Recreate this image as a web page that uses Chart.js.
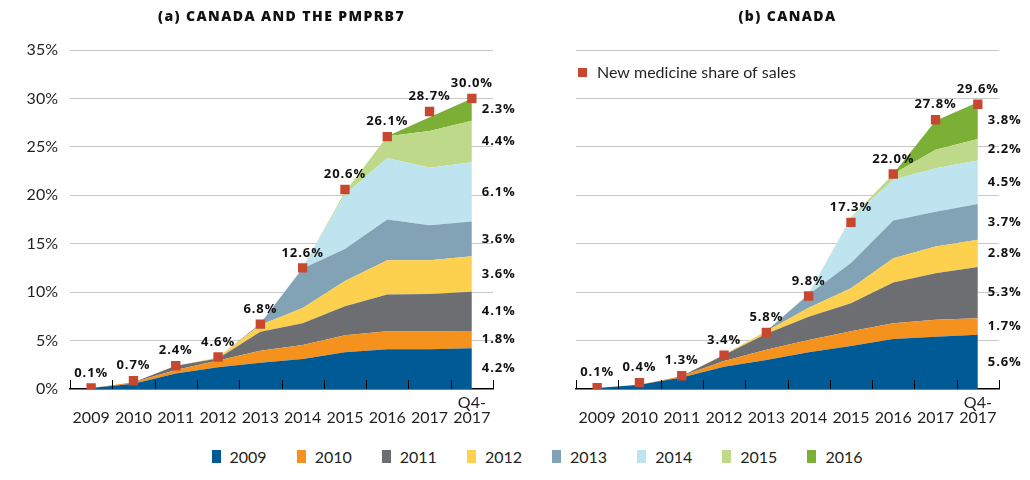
<!DOCTYPE html>
<html>
<head>
<meta charset="utf-8">
<script src="https://cdn.jsdelivr.net/npm/chart.js@4"></script>
<style>
html,body{margin:0;padding:0;background:#fff;width:1030px;height:480px;overflow:hidden;}
#wrap{position:relative;width:1030px;height:480px;}
#ca{position:absolute;left:0;top:0;}
#cb{position:absolute;left:515px;top:0;}
#legend{position:absolute;top:447px;left:22px;width:1030px;display:flex;justify-content:center;align-items:center;
  font-family:Lato,"Open Sans",sans-serif;font-size:16px;color:#231f20;}
.item{display:flex;align-items:center;margin:0 15px;}
.sw{display:inline-block;width:9px;height:13px;margin-right:9px;}
</style>
</head>
<body>
<div id="wrap">
<canvas id="ca" width="535" height="440"></canvas>
<canvas id="cb" width="515" height="440"></canvas>
<div id="legend"></div>
</div>
<script>
// ---------- DATA ----------
const categories = ['2009','2010','2011','2012','2013','2014','2015','2016','2017','Q4-2017'];
const xTickLabels = [['','2009'],['','2010'],['','2011'],['','2012'],['','2013'],['','2014'],['','2015'],['','2016'],['','2017'],['Q4-','2017']];
const yTickValues = [0,5,10,15,20,25,30,35];
const cohorts = ['2009','2010','2011','2012','2013','2014','2015','2016'];
const cohortColors = ['#005A96','#F5921E','#6D6E71','#FDD04D','#82A2B5','#BEE4EF','#BFD98A','#7BAF36'];
const shareLabel = 'New medicine share of sales';
const shareColor = '#C8472F';

// (a) Canada and the PMPRB7 — share of sales (%) by launch-year cohort
const a2009 = [0.1, 0.55, 1.6, 2.25, 2.7, 3.1, 3.8, 4.1, 4.1, 4.2];
const a2010 = [0, 0.15, 0.35, 0.7, 1.25, 1.45, 1.75, 1.85, 1.85, 1.8];
const a2011 = [0, 0, 0.45, 0.2, 1.95, 2.25, 3.0, 3.8, 3.85, 4.05];
const a2012 = [0, 0, 0, 0.1, 0.7, 1.55, 2.6, 3.55, 3.5, 3.65];
const a2013 = [0, 0, 0, 0, 0.15, 4.1, 3.3, 4.2, 3.6, 3.6];
const a2014 = [0, 0, 0, 0, 0, 0.1, 5.6, 6.35, 5.95, 6.1];
const a2015 = [0, 0, 0, 0, 0, 0, 0.3, 2.25, 3.8, 4.3];
const a2016 = [0, 0, 0, 0, 0, 0, 0, 0, 1.4, 2.3];
const aShare = [0.1, 0.85, 2.4, 3.3, 6.7, 12.5, 20.6, 26.05, 28.65, 30.0];
const aShareLabels = ['0.1%','0.7%','2.4%','4.6%','6.8%','12.6%','20.6%','26.1%','28.7%','30.0%'];
const aEndLabels = ['4.2%','1.8%','4.1%','3.6%','3.6%','6.1%','4.4%','2.3%'];

// (b) Canada
const b2009 = [0.1, 0.45, 1.2, 2.3, 3.0, 3.8, 4.45, 5.15, 5.4, 5.6];
const b2010 = [0, 0, 0.15, 0.6, 1.05, 1.25, 1.5, 1.65, 1.75, 1.7];
const b2011 = [0, 0, 0, 0.6, 1.65, 2.4, 2.9, 4.2, 4.8, 5.3];
const b2012 = [0, 0, 0, 0.05, 0.25, 0.95, 1.55, 2.5, 2.75, 2.8];
const b2013 = [0, 0, 0, 0, 0.05, 1.35, 2.6, 3.9, 3.6, 3.7];
const b2014 = [0, 0, 0, 0, 0, 0.1, 4.6, 4.2, 4.5, 4.5];
const b2015 = [0, 0, 0, 0, 0, 0, 0.1, 0.6, 1.9, 2.2];
const b2016 = [0, 0, 0, 0, 0, 0, 0, 0, 3.0, 3.8];
const bShare = [0.14, 0.65, 1.37, 3.5, 5.84, 9.6, 17.2, 22.2, 27.8, 29.4];
const bShareLabels = ['0.1%','0.4%','1.3%','3.4%','5.8%','9.8%','17.3%','22.0%','27.8%','29.6%'];
const bEndLabels = ['5.6%','1.7%','5.3%','2.8%','3.7%','4.5%','2.2%','3.8%'];

// ---------- RENDER ----------
const BOLD = '"Open Sans", "DejaVu Sans", sans-serif';
const LIGHT = 'Lato, "Open Sans", sans-serif';

const annotate = {
  id: 'annotate',
  afterDraw(chart, args, o) {
    const ctx = chart.ctx, x = chart.scales.x, y = chart.scales.y, ca = chart.chartArea;
    ctx.save();
    // upward tick marks at category boundaries
    const step = x.getPixelForValue(1) - x.getPixelForValue(0);
    ctx.strokeStyle = '#000'; ctx.lineWidth = 1;
    for (let i = 0; i <= categories.length; i++) {
      const px = Math.round(x.getPixelForValue(i) - step / 2) + 0.5;
      ctx.beginPath(); ctx.moveTo(px, ca.bottom); ctx.lineTo(px, ca.bottom - 9); ctx.stroke();
    }
    // title
    ctx.fillStyle = '#111';
    ctx.font = '800 14px ' + BOLD;
    ctx.letterSpacing = '1.4px';
    ctx.textAlign = 'center'; ctx.textBaseline = 'middle';
    ctx.fillText(o.title, (ca.left + ca.right) / 2, 17);
    // share labels above markers
    ctx.font = 'bold 13px ' + BOLD;
    ctx.letterSpacing = '0.9px';
    const sm = chart.getDatasetMeta(0);
    sm.data.forEach((pt, i) => {
      ctx.fillText(o.shareLabels[i], pt.x, pt.y - 15);
    });
    // end labels at middle of each layer
    ctx.textAlign = 'left';
    const last = categories.length - 1;
    let base = 0;
    o.series.forEach((s, i) => {
      const v = s[last];
      const mid = y.getPixelForValue(base + v / 2);
      base += v;
      ctx.fillText(o.endLabels[i], x.getPixelForValue(last) + 10, mid);
    });
    ctx.letterSpacing = '0px';
    // inline legend for share markers
    if (o.shareLegend) {
      ctx.fillStyle = shareColor;
      ctx.fillRect(ca.left + 2, 68, 9, 9);
      ctx.fillStyle = '#231f20';
      ctx.font = '16px ' + LIGHT;
      ctx.textBaseline = 'middle';
      ctx.fillText(shareLabel, ca.left + 21, 73);
    }
    ctx.restore();
  }
};

function makeChart(id, series, share, shareLabels, endLabels, title, yWidth, padRight, showY, shareLegend) {
  const datasets = [{
    type: 'line', label: shareLabel, data: share, stack: 'share',
    showLine: false, pointStyle: 'rect', pointRadius: 6.6, pointHoverRadius: 6.6,
    pointBackgroundColor: shareColor, pointBorderWidth: 0, borderColor: shareColor,
    fill: false, order: 0
  }];
  series.forEach((d, i) => {
    datasets.push({
      type: 'line', label: cohorts[i], data: d, stack: 'cohorts',
      backgroundColor: cohortColors[i], borderColor: 'rgba(0,0,0,0)', borderWidth: 0,
      pointRadius: 0, tension: 0, fill: i === 0 ? 'origin' : '-1', order: 1
    });
  });
  return new Chart(document.getElementById(id), {
    type: 'line',
    data: { labels: xTickLabels, datasets },
    options: {
      responsive: false, animation: false,
      layout: { padding: { top: 50, right: padRight, left: 0, bottom: 0 } },
      plugins: { legend: { display: false }, tooltip: { enabled: false },
        annotate: { title, shareLabels, endLabels, series, shareLegend } },
      scales: {
        x: {
          type: 'category', offset: true,
          grid: { display: true, color: 'rgba(0,0,0,0)', drawTicks: false },
          border: { display: true, color: '#000', width: 1.5 },
          ticks: { color: '#231f20', font: { family: LIGHT, size: 16, lineHeight: 0.95 }, padding: 6, maxRotation: 0, autoSkip: false },
          afterFit(s) { s.height = 51; }
        },
        y: {
          stacked: true, min: 0, max: 35,
          afterBuildTicks(s) { s.ticks = yTickValues.map(v => ({ value: v })); },
          grid: { color: c => c.tick && c.tick.value === 0 ? 'rgba(0,0,0,0)' : '#c8c8c8', lineWidth: 1, drawTicks: false },
          border: { display: false },
          ticks: { display: showY, color: '#231f20', padding: 12, font: { family: LIGHT, size: 16 }, callback: v => v + '%' },
          afterFit(s) { s.width = yWidth; }
        }
      }
    },
    plugins: [annotate]
  });
}

makeChart('ca', [a2009,a2010,a2011,a2012,a2013,a2014,a2015,a2016], aShare, aShareLabels, aEndLabels,
  '(a) CANADA AND THE PMPRB7', 70, 42, true, false);
makeChart('cb', [b2009,b2010,b2011,b2012,b2013,b2014,b2015,b2016], bShare, bShareLabels, bEndLabels,
  '(b) CANADA', 61, 31, false, true);

// bottom legend
const lg = document.getElementById('legend');
cohorts.forEach((c, i) => {
  const it = document.createElement('div'); it.className = 'item';
  const sw = document.createElement('span'); sw.className = 'sw'; sw.style.background = cohortColors[i];
  const tx = document.createElement('span'); tx.textContent = c;
  it.appendChild(sw); it.appendChild(tx); lg.appendChild(it);
});
</script>
</body>
</html>
